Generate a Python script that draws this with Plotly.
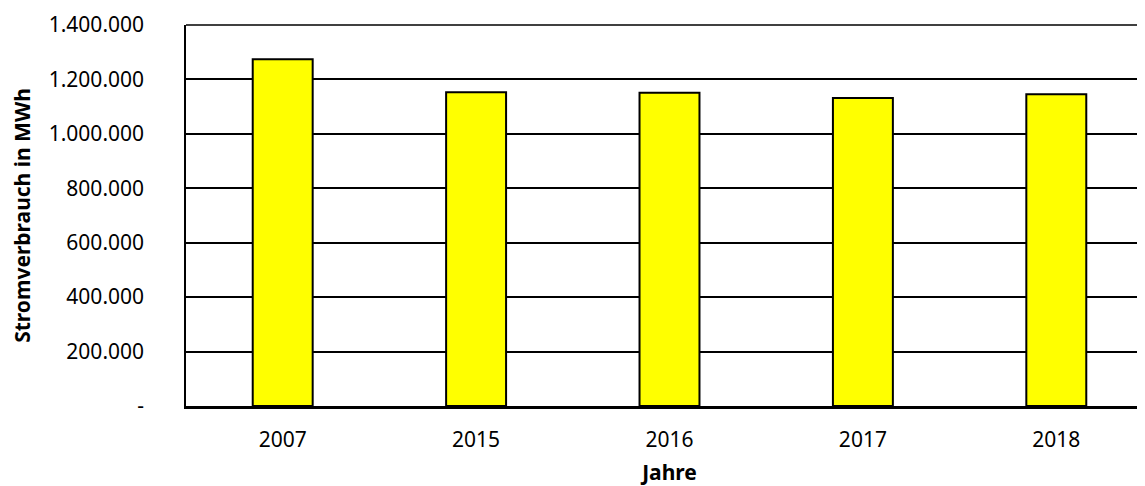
import plotly.graph_objects as go

years = ["2007", "2015", "2016", "2017", "2018"]
consumption = [1274000, 1152700, 1151000, 1131700, 1145300]
y_tickvals = [0, 200000, 400000, 600000, 800000, 1000000, 1200000, 1400000]
y_ticktext = ["-", "200.000", "400.000", "600.000", "800.000", "1.000.000", "1.200.000", "1.400.000"]

font_family = "Noto Sans, Open Sans, sans-serif"

fig = go.Figure(go.Bar(
    x=years, y=consumption, width=0.31,
    marker=dict(color="#FFFF00", line=dict(color="black", width=2)),
))

# page body has an 8px margin, so the figure is shifted to compensate;
# the plot area runs slightly past the right window edge, as in the reference
fig.update_layout(
    width=1145, height=478,
    margin=dict(l=178, r=0, t=17, b=80),
    paper_bgcolor="white", plot_bgcolor="white",
    showlegend=False,
    font=dict(family=font_family, size=21, color="black"),
    shapes=[dict(type="line", xref="paper", yref="paper", x0=0, x1=1, y0=1, y1=1,
                 line=dict(color="black", width=1.5))],
)
fig.update_xaxes(
    type="category", range=[-0.5, 4.5],
    showline=True, linecolor="black", linewidth=2.5,
    ticks="outside", ticklen=13, tickcolor="rgba(0,0,0,0)",
    tickfont=dict(size=21),
    title=dict(text="<b>Jahre</b>", font=dict(size=21), standoff=17),
)
fig.update_yaxes(
    range=[0, 1400000], tickvals=y_tickvals, ticktext=y_ticktext,
    showgrid=True, gridcolor="black", gridwidth=1.5,
    showline=True, linecolor="black", linewidth=1.5,
    zeroline=False,
    ticks="outside", ticklen=36, tickcolor="rgba(0,0,0,0)",
    tickfont=dict(size=21),
    title=dict(text="<b>Stromverbrauch in MWh</b>", font=dict(size=21), standoff=12),
)

fig.write_html("out.html")
